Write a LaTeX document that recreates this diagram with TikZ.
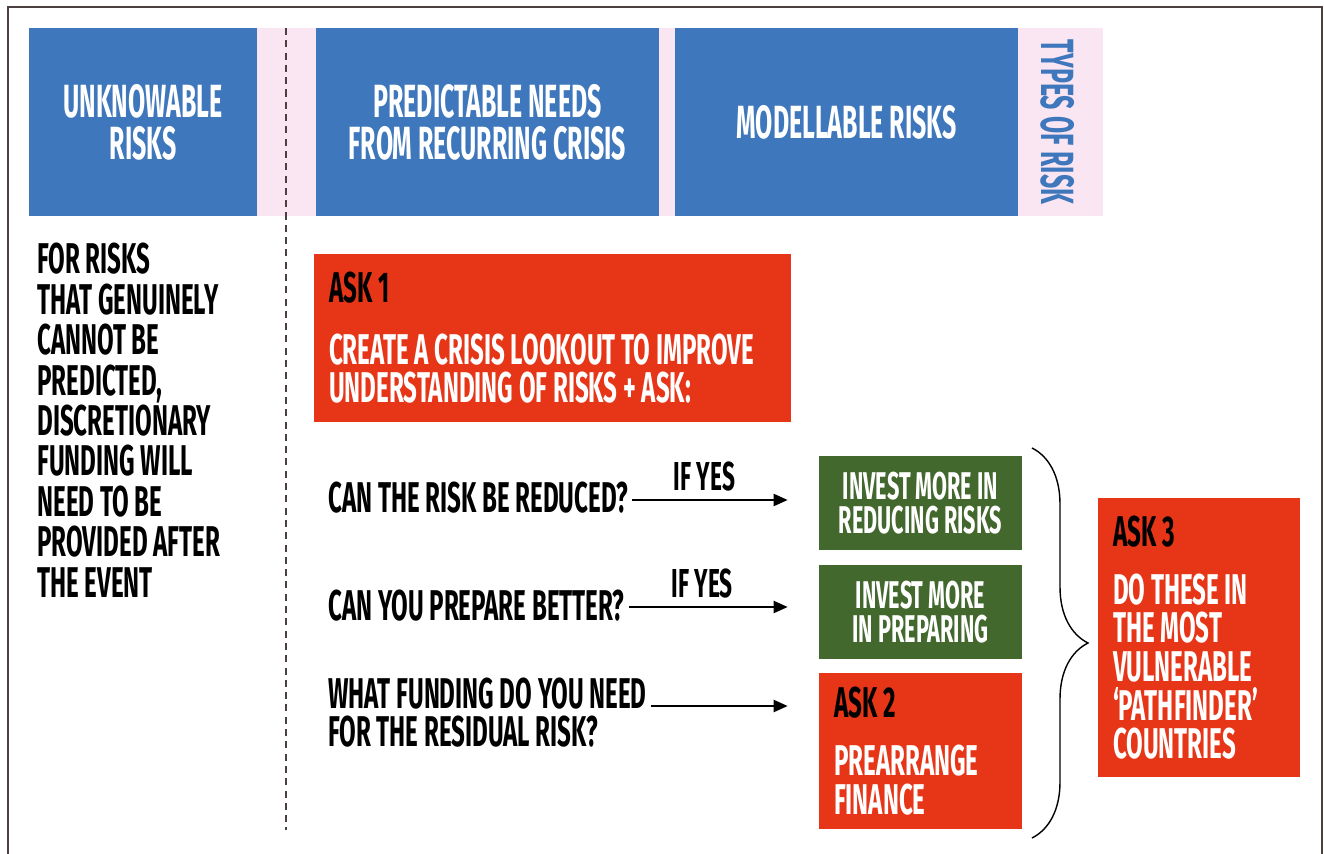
\documentclass[tikz,border=0pt]{standalone}
\usepackage{fontspec}
\newfontfamily\condfont[FakeStretch=0.56]{Fira Sans}
\newfontfamily\headfont[FakeStretch=0.535]{Fira Sans}
\usetikzlibrary{arrows.meta}
\usetikzlibrary{decorations.pathreplacing}
\definecolor{riskblue}{HTML}{3E77BC}
\definecolor{riskpink}{HTML}{FAE5F2}
\definecolor{askred}{HTML}{E63517}
\definecolor{investgreen}{HTML}{43682D}
\definecolor{framegray}{HTML}{4B3F3F}
\newcommand{\asktitle}[1]{{\color{black}#1}}

\begin{document}
\begin{tikzpicture}[x=0.02cm, y=-0.02cm,
  every node/.append style={inner sep=0pt, font=\condfont\bfseries},
  typebox/.style={fill=riskblue, text=white, minimum width=6.86cm, minimum height=3.76cm, align=center, font=\headfont\bfseries\fontsize{26.5}{23.8}\selectfont},
  askbox/.style={fill=askred, text=white, align=flush left, inner xsep=0.3cm, font=\condfont\bfseries\fontsize{24.5}{22}\selectfont},
  investbox/.style={fill=investgreen, text=white, minimum width=4.06cm, minimum height=1.88cm, align=center, font=\condfont\bfseries\fontsize{22}{19.8}\selectfont},
  question/.style={align=left, font=\condfont\bfseries\fontsize{24.5}{21.5}\selectfont},
  arr/.style={-{Triangle[length=0.28cm, width=0.24cm]}, line width=1.2pt, shorten <=0.08cm, shorten >=0.62cm}]
  \useasboundingbox (0,0) rectangle (1324,854);
  \draw[framegray, line width=0.9pt] (8,854) -- (8,7) -- (1322,7) -- (1322,854);
  \fill[riskpink] (257,28) rectangle (1103,216);
  \draw[framegray, line width=1.2pt, dash pattern=on 4pt off 3pt] (286,28) -- (286,830);
  \node[typebox, minimum width=4.56cm] (unknowable) at (143,122) {UNKNOWABLE\\RISKS};
  \node[typebox] (predictable) at (487.5,122) {PREDICTABLE NEEDS\\FROM RECURRING CRISIS};
  \node[typebox] (modellable) at (846.5,122) {MODELLABLE RISKS};
  \node[rotate=-90, text=riskblue, font=\headfont\bfseries\fontsize{26.5}{23.8}\selectfont] (types) at (1058,122) {TYPES OF RISK};
  \node[question, anchor=north west, font=\condfont\bfseries\fontsize{24.5}{23}\selectfont] (unknowtext) at (37,243) {FOR RISKS\\THAT GENUINELY\\CANNOT BE\\PREDICTED,\\DISCRETIONARY\\FUNDING WILL\\NEED TO BE\\PROVIDED AFTER\\THE EVENT};
  \node[askbox, minimum width=9.54cm, minimum height=3.36cm, text width=8.94cm] (ask1) at (552.5,338) {\asktitle{ASK 1}\\[13pt]CREATE A CRISIS LOOKOUT TO IMPROVE\\UNDERSTANDING OF RISKS + ASK:};
  \node[question, anchor=west] (reduce) at (328,498) {CAN THE RISK BE REDUCED?};
  \node[question, anchor=west] (prepare) at (328,606) {CAN YOU PREPARE BETTER?};
  \node[question, anchor=north west] (funding) at (328,678) {WHAT FUNDING DO YOU NEED\\FOR THE RESIDUAL RISK?};
  \node[investbox] (investreduce) at (920.5,503) {INVEST MORE IN\\REDUCING RISKS};
  \node[investbox] (investprepare) at (920.5,612) {INVEST MORE\\IN PREPARING};
  \node[askbox, minimum width=4.06cm, minimum height=3.12cm, text width=3.46cm] (ask2) at (920.5,751) {\asktitle{ASK 2}\\[11pt]PREARRANGE\\FINANCE};
  \node[askbox, minimum width=4.04cm, minimum height=5.58cm, text width=3.44cm] (ask3) at (1199,637.5) {\asktitle{ASK 3}\\[11pt]DO THESE IN\\THE MOST\\VULNERABLE\\‘PATHFINDER’\\COUNTRIES};
  \coordinate (reduceout) at (reduce.east |- 0,500);
  \coordinate (prepareout) at (prepare.east |- 0,607);
  \coordinate (fundingout) at (funding.east |- 0,706);
  \draw[arr] (reduceout) -- (reduceout -| investreduce.west) node[pos=0.4, above=0.16cm, font=\condfont\bfseries\fontsize{23}{23}\selectfont] (yesreduce) {IF YES};
  \draw[arr] (prepareout) -- (prepareout -| investprepare.west) node[pos=0.4, above=0.16cm, font=\condfont\bfseries\fontsize{23}{23}\selectfont] (yesprepare) {IF YES};
  \draw[arr] (fundingout) -- (fundingout -| ask2.west);
  \draw[decorate, decoration={brace, amplitude=1.12cm}, line width=0.8pt] (1032,448) -- (1032,838);
\end{tikzpicture}
\end{document}
